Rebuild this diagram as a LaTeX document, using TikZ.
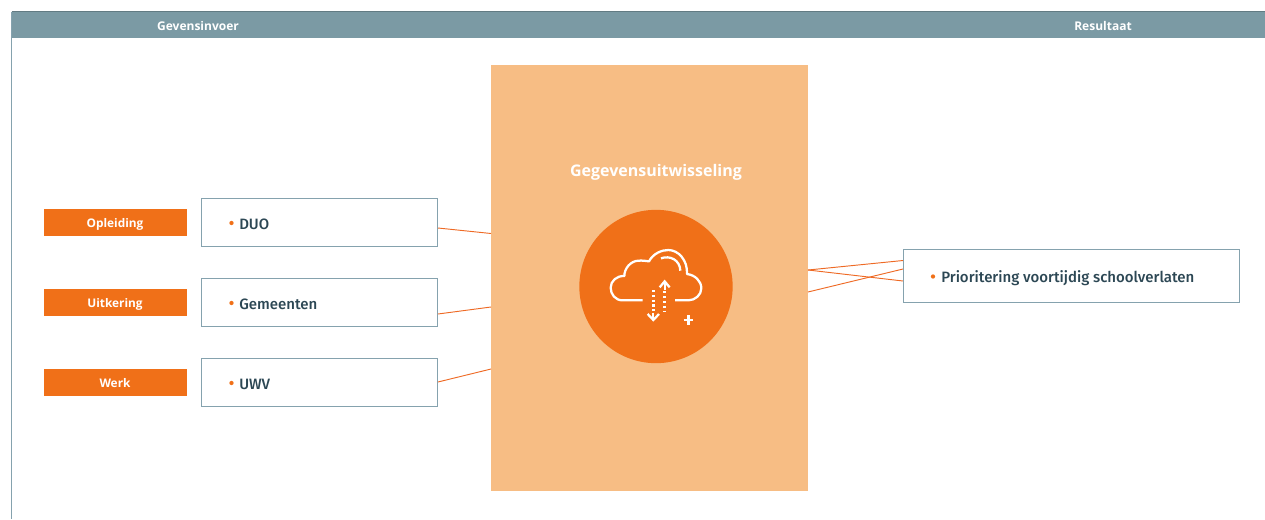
\documentclass[tikz,border=0pt]{standalone}
\usepackage{fontspec}
\setmainfont{Open Sans}
\newfontfamily\lab{Fira Sans}[UprightFont=* Medium,BoldFont=* Medium]
\definecolor{hdr}{HTML}{7B9AA4}
\definecolor{edge}{HTML}{85A2AE}
\definecolor{orng}{HTML}{F07018}
\definecolor{pale}{HTML}{F7BD84}
\definecolor{ink}{HTML}{2C4754}
\definecolor{conn}{HTML}{EE6A25}
\tikzset{
 x=0.75pt,y=-0.75pt,
 tag/.style={fill=orng,inner sep=0,minimum width=107.25pt,minimum height=20.25pt},
 tagtxt/.style={text=white,font=\fontsize{8.9}{10}\selectfont\bfseries,inner sep=0},
 srcbox/.style={draw=edge,fill=white,line width=0.75pt,inner sep=0,minimum width=177.4pt,minimum height=36pt},
 boxtxt/.style={text=ink,font=\lab\fontsize{11.25}{13}\selectfont,anchor=west,inner sep=0},
 dot/.style={circle,fill=orng,inner sep=0,minimum size=3.2pt},
 head/.style={text=white,font=\fontsize{9}{10}\selectfont\bfseries,inner sep=0},
 link/.style={draw=conn,line width=0.7pt},
 icon/.style={draw=white,line width=1.7pt}
}
\begin{document}
\begin{tikzpicture}
\useasboundingbox (0,0) rectangle (1265,519);
% header
\draw[draw=edge,line width=1pt] (11.8,12) -- (11.8,519);
\fill[hdr] (11.5,11.5) rectangle (1265,38);
\draw[draw=black!20!hdr,line width=0.5pt] (11.5,11.5) -- (1265,11.5);
\node[head] (hl) at (198,26) {Gevensinvoer};
\node[head] (hr) at (1103,26) {Resultaat};
% centre
\node[fill=pale,inner sep=0,minimum width=237.75pt,minimum height=319.5pt] (mid) at (649.5,278) {};
\node[text=white,inner sep=0,font=\fontsize{12}{14}\selectfont\bfseries] (midt) at (656,172.5) {Gegevensuitwisseling};
\node[circle,fill=orng,inner sep=0,minimum size=115pt] (disc) at (656,286.5) {};
% tags
\node[tag] (t1) at (115.5,222.5) {};
\node[tag] (t2) at (115.5,302.5) {};
\node[tag] (t3) at (115.5,382.5) {};
\node[tagtxt] (l1) at (115,224) {Opleiding};
\node[tagtxt] (l2) at (115,304) {Uitkering};
\node[tagtxt] (l3) at (115,383) {Werk};
% boxes
\node[srcbox] (b1) at (319.7,222.5) {};
\node[srcbox] (b2) at (319.7,302.5) {};
\node[srcbox] (b3) at (319.7,382.5) {};
\node[srcbox,minimum width=252.2pt,minimum height=39.5pt] (b4) at (1071.3,276) {};
\node[dot] (d1) at (231.5,223) {};
\node[dot] (d2) at (231.5,303) {};
\node[dot] (d3) at (231.5,383) {};
\node[dot] (d4) at (933,276.5) {};
\node[boxtxt] (x1) at (239,224) {DUO};
\node[boxtxt] (x2) at (239,304) {Gemeenten};
\node[boxtxt] (x3) at (239,384) {UWV};
\node[boxtxt] (x4) at (941,278) {Prioritering voortijdig schoolverlaten};
% connector ends
\coordinate (a1) at (438,228);
\coordinate (a2) at (438,314);
\coordinate (a3) at (438,382);
\coordinate (m1) at (491,233.5);
\coordinate (m2) at (491,307);
\coordinate (m3) at (491,369);
\coordinate (r1) at (808,270);
\coordinate (r2) at (808,292);
\coordinate (e1) at (903,260.5);
\coordinate (e2) at (903,269);
\coordinate (e3) at (903,281);
\draw[link] (a1) -- (m1);
\draw[link] (a2) -- (m2);
\draw[link] (a3) -- (m3);
\draw[link] (r1) -- (e1);
\draw[link] (r1) -- (e3);
\draw[link] (r2) -- (e2);
% icon
\begin{scope}[shift={(570,200)},x=0.25pt,y=-0.25pt]
\draw[icon,line cap=butt,line join=round] (218,301) -- (158,301) .. controls (135,301) and (122,282) .. (122,263) .. controls (122,243) and (140,227) .. (163,228) .. controls (163,205) and (182,183) .. (205,182) .. controls (218,181) and (228,183) .. (237,184) .. controls (250,160) and (275,150) .. (295,150) .. controls (325,150) and (353,180) .. (351,222) .. controls (375,225) and (394,243) .. (394,265) .. controls (394,285) and (375,301) .. (355,301) -- (315,301);
\draw[icon] (273,175) .. controls (300,165) and (330,180) .. (331,212);
\draw[icon] (284,244) -- (284,270);
\draw[icon,dash pattern=on 1.6pt off 2pt,line width=2pt] (284,274) -- (284,334);
\draw[icon,line join=miter] (269,262) -- (284,244) -- (299,262);
\draw[icon] (250,338) -- (250,360);
\draw[icon,dash pattern=on 1.6pt off 2pt,line width=2pt] (250,270) -- (250,336);
\draw[icon] (233,342) -- (250,360) -- (267,342);
\draw[draw=white,line width=2.2pt] (341,360) -- (370,360) (355.5,346) -- (355.5,374);
\end{scope}
\end{tikzpicture}
\end{document}
